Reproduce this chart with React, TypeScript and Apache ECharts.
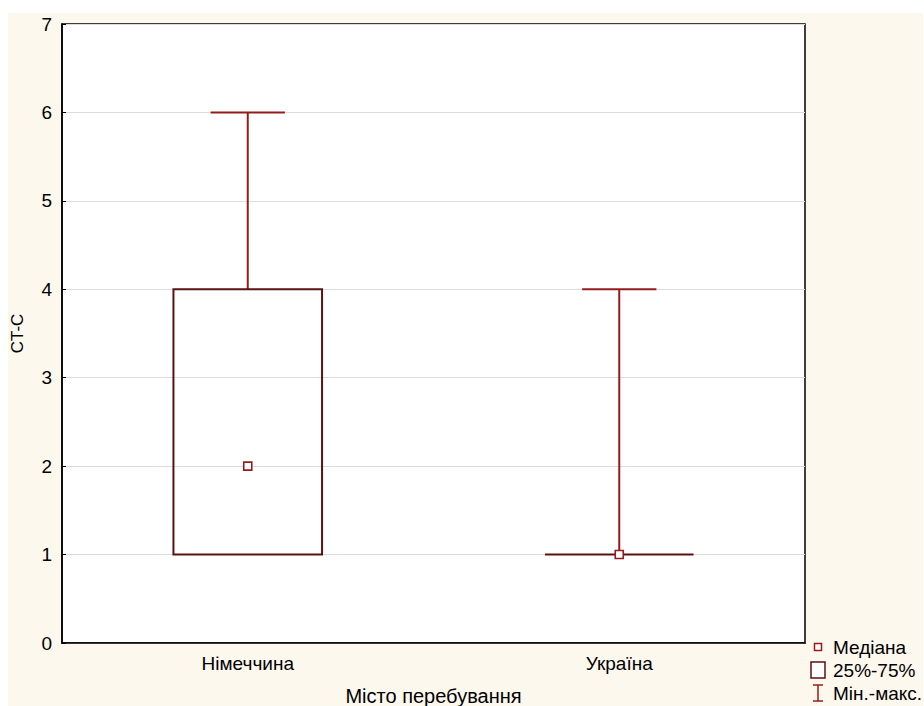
import React, { useEffect, useRef } from "react";
import * as echarts from "echarts";

const categories = ["Німеччина", "Україна"];
const minVals = [1, 1];
const q1Vals = [1, 1];
const medianVals = [2, 1];
const q3Vals = [4, 1];
const maxVals = [6, 4];
const legendLabels = ["Медіана", "25%-75%", "Мін.-макс."];

const BOX_COLOR = "#5a1212";
const WHISKER_COLOR = "#961c1c";
const FONT = "Liberation Sans, Arial, sans-serif";

export default function App() {
  const ref = useRef<HTMLDivElement>(null);
  useEffect(() => {
    if (!ref.current) return;
    const chart = echarts.init(ref.current, null, { renderer: "svg" });
    const data = categories.map((_, i) => [i, minVals[i], q1Vals[i], medianVals[i], q3Vals[i], maxVals[i]]);
    const ox = 8, oy = 13;
    const lx = 818 - ox;
    const legendFont = "19px " + FONT;
    chart.setOption({
      animation: false,
      backgroundColor: "#fdf8ee",
      textStyle: { fontFamily: FONT },
      grid: {
        left: 54, top: 11, right: 118, bottom: 63,
        outerBoundsMode: "none",
        containLabel: false,
        show: true, backgroundColor: "#ffffff", borderColor: "#000", borderWidth: 1.5,
      },
      xAxis: {
        type: "category",
        data: categories,
        boundaryGap: true,
        name: "Місто перебування",
        nameLocation: "middle",
        nameGap: 43,
        nameTextStyle: { fontSize: 20, color: "#000", fontFamily: FONT },
        axisLine: { lineStyle: { color: "#000", width: 1.5 } },
        axisTick: { inside: true, length: 4, alignWithLabel: true, lineStyle: { color: "#000" } },
        axisLabel: { fontSize: 19, color: "#000", margin: 11, fontFamily: FONT },
        splitLine: { show: false },
      },
      yAxis: {
        type: "value",
        min: 0, max: 7, interval: 1,
        name: "CT-C",
        nameLocation: "middle",
        nameRotate: 90,
        nameGap: 36,
        nameTextStyle: { fontSize: 17, color: "#000", fontFamily: FONT },
        axisLine: { show: true, lineStyle: { color: "#000", width: 1.5 } },
        axisTick: { show: true, inside: true, length: 4, lineStyle: { color: "#000" } },
        axisLabel: { fontSize: 19, color: "#000", margin: 10, fontFamily: FONT },
        splitLine: { show: true, lineStyle: { color: "#dcdcdc", width: 1 } },
      },
      series: [
        {
          type: "custom",
          data,
          renderItem: (params: any, api: any) => {
            const idx = api.value(0);
            const mn = api.value(1), q1 = api.value(2), md = api.value(3), q3 = api.value(4), mx = api.value(5);
            const band = api.size([1, 0])[0];
            const bw = band * 0.4;
            const cw = band * 0.2;
            const pMax = api.coord([idx, mx]);
            const pQ3 = api.coord([idx, q3]);
            const pQ1 = api.coord([idx, q1]);
            const pMin = api.coord([idx, mn]);
            const pMd = api.coord([idx, md]);
            const x = pMax[0];
            const wStyle = { stroke: WHISKER_COLOR, lineWidth: 2 };
            const children: any[] = [];
            if (mx > q3) {
              children.push({ type: "line", shape: { x1: x, y1: pMax[1], x2: x, y2: pQ3[1] }, style: wStyle });
              children.push({ type: "line", shape: { x1: x - cw / 2, y1: pMax[1], x2: x + cw / 2, y2: pMax[1] }, style: wStyle });
            }
            if (mn < q1) {
              children.push({ type: "line", shape: { x1: x, y1: pQ1[1], x2: x, y2: pMin[1] }, style: wStyle });
              children.push({ type: "line", shape: { x1: x - cw / 2, y1: pMin[1], x2: x + cw / 2, y2: pMin[1] }, style: wStyle });
            }
            children.push({
              type: "rect",
              shape: { x: x - bw / 2, y: pQ3[1], width: bw, height: Math.max(pQ1[1] - pQ3[1], 0) },
              style: { fill: "none", stroke: BOX_COLOR, lineWidth: 2 },
            });
            children.push({
              type: "rect",
              shape: { x: pMd[0] - 4, y: pMd[1] - 4, width: 8, height: 8 },
              style: { fill: "#fff", stroke: WHISKER_COLOR, lineWidth: 1.6 },
            });
            return { type: "group", children };
          },
        },
      ],
      graphic: [
        { type: "rect", shape: { x: lx - 3.5, y: 647 - oy - 3.5, width: 7, height: 7 }, style: { fill: "#fff", stroke: WHISKER_COLOR, lineWidth: 1.5 } },
        { type: "text", x: 833 - ox, y: 647 - oy, style: { text: legendLabels[0], fill: "#000", font: legendFont, verticalAlign: "middle" } },
        { type: "rect", shape: { x: lx - 7, y: 670 - oy - 8, width: 14, height: 16 }, style: { fill: "#fff", stroke: BOX_COLOR, lineWidth: 1.5 } },
        { type: "text", x: 833 - ox, y: 670 - oy, style: { text: legendLabels[1], fill: "#000", font: legendFont, verticalAlign: "middle" } },
        { type: "line", shape: { x1: lx, y1: 685 - oy, x2: lx, y2: 701 - oy }, style: { stroke: WHISKER_COLOR, lineWidth: 1.5 } },
        { type: "line", shape: { x1: lx - 5, y1: 685 - oy, x2: lx + 5, y2: 685 - oy }, style: { stroke: WHISKER_COLOR, lineWidth: 1.5 } },
        { type: "line", shape: { x1: lx - 5, y1: 701 - oy, x2: lx + 5, y2: 701 - oy }, style: { stroke: WHISKER_COLOR, lineWidth: 1.5 } },
        { type: "text", x: 833 - ox, y: 693 - oy, style: { text: legendLabels[2], fill: "#000", font: legendFont, verticalAlign: "middle" } },
      ],
    });
    return () => chart.dispose();
  }, []);
  return <div ref={ref} style={{ position: "absolute", left: 8, top: 13, width: 915, height: 693 }} />;
}
